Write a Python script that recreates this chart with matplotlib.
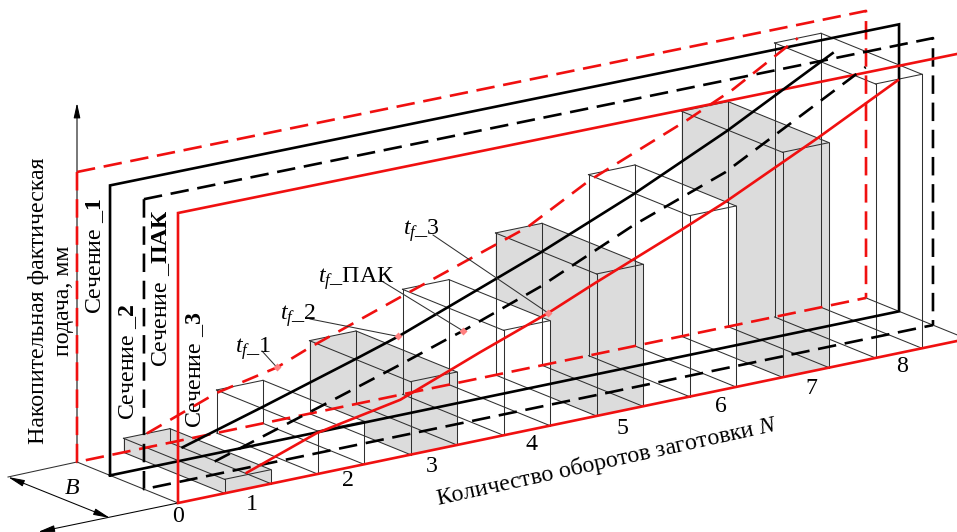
import matplotlib
matplotlib.use('Agg')
import numpy as np
import matplotlib.pyplot as plt
from matplotlib.patches import Polygon

plt.rcParams['font.family'] = ['Liberation Serif', 'DejaVu Serif']
plt.rcParams['mathtext.fontset'] = 'custom'
plt.rcParams['mathtext.rm'] = 'Liberation Serif'
plt.rcParams['mathtext.it'] = 'Liberation Serif:italic'
plt.rcParams['mathtext.bf'] = 'Liberation Serif:bold'

# Высота столбиков по оборотам (1..8)
bar_n = [1, 2, 3, 4, 5, 6, 7, 8]
bar_h = [14, 43, 73, 105, 142, 181, 225, 274]

# Накопительная подача в четырёх сечениях
tf1_n = [0.75, 1.50, 2.15, 2.50, 3.55, 4.84, 5.51, 6.56, 7.05, 7.75]
tf1_h = [14, 40, 53, 66, 100, 141, 175, 215, 236, 274]
tf2_n = [0.78, 1.65, 2.63, 3.10, 4.62, 5.62, 6.63, 7.77]
tf2_h = [13, 37, 65, 79, 133, 172, 216, 272]
tfp_n = [0.76, 2.07, 2.78, 3.26, 3.43, 4.26, 5.26, 6.25, 7.76]
tfp_h = [13, 51, 72, 87, 92, 120, 162, 196, 272]
tf3_n = [0.74, 1.49, 2.39, 2.92, 3.25, 3.98, 4.48, 5.40, 5.88, 6.88, 7.74]
tf3_h = [16, 41, 57, 76, 88, 113, 133, 168, 187, 232, 273]

# Положение маркеров на кривых
marker_n = [2.15, 3.10, 3.43, 3.98]
marker_h = [53, 79, 92, 113]

tick_labels = ['0', '1', '2', '3', '4', '5', '6', '7', '8']
tick_x = [178, 252, 348, 432, 531, 622, 721, 811, 902]
tick_y = [516, 504, 481, 466, 445, 428, 406, 388, 367]

# Плоскости сечений: глубина и стиль
D1, D2, DP, D3 = 1.0, 0.673, 0.337, 0.0
N_END = 8.484
RED = '#f01010'
DARK = '#303030'
FS = 17.2


def proj(n, d, h):
    # косоугольная проекция: обороты, глубина, высота -> пиксели
    n = np.asarray(n, dtype=float)
    h = np.asarray(h, dtype=float)
    x = 178 + 93 * n - 101 * d
    y = 503 - 19.34 * n - 41 * d - h
    return x, y


fig = plt.figure(figsize=(9.57, 5.32), dpi=100)
ax = fig.add_axes([0, 0, 1, 1])
ax.set_xlim(0, 957)
ax.set_ylim(532, 0)
ax.axis('off')

# Столбики: заливка сзади наперёд
for i in range(len(bar_n) - 1, -1, -1):
    n = bar_n[i]
    h = bar_h[i]
    n0 = n - 0.5
    pts = [proj(n0, 1, 0), proj(n0, 1, h), proj(n, 1, h), proj(n, 0, h), proj(n, 0, 0), proj(n0, 0, 0)]
    col = '#dcdcdc' if n % 2 == 1 else 'white'
    ax.add_patch(Polygon(pts, closed=True, facecolor=col, edgecolor='none', zorder=1))

# Рёбра столбиков
for n, h in zip(bar_n, bar_h):
    n0 = n - 0.5
    for a, b in [((n0, 1, h), (n, 1, h)), ((n0, 0, h), (n, 0, h)), ((n0, 1, h), (n0, 0, h)), ((n, 1, h), (n, 0, h)),
                 ((n0, 1, 0), (n0, 0, 0)), ((n, 1, 0), (n, 0, 0)),
                 ((n0, 1, 0), (n0, 1, h)), ((n, 1, 0), (n, 1, h)), ((n0, 0, 0), (n0, 0, h)), ((n, 0, 0), (n, 0, h))]:
        xa, ya = proj(*a)
        xb, yb = proj(*b)
        ax.plot([xa, xb], [ya, yb], color=DARK, lw=0.75, zorder=2)

# Тонкие линии на полу
xa, ya = proj(0, 1, 0)
xb, yb = proj(0, 0, 0)
ax.plot([xa, xb], [ya, yb], color=DARK, lw=0.75, zorder=2)
xa, ya = proj(N_END, 1, 0)
xb, yb = proj(N_END, -0.3, 0)
ax.plot([xa, xb], [ya, yb], color=DARK, lw=0.75, zorder=2)


# Рамки сечений
def section(d, color, dashed):
    x0, y0 = proj(0, d, 0)
    x1, y1 = proj(0, d, 290)
    x2, y2 = proj(N_END, d, 287)
    x3, y3 = proj(N_END, d, 0)
    if d == D3:
        # правый край уходит за кадр
        ax.plot([x3, x0, x1, x2], [y3, y0, y1, y2], color=color, lw=1.9, zorder=3, solid_joinstyle='miter')
    elif dashed:
        # штрихи идут от верхнего угла в обе стороны
        ax.plot([x1, x0, x3], [y1, y0, y3], color=color, lw=1.9, dashes=(7, 3.3), zorder=3)
        ax.plot([x1, x2, x3], [y1, y2, y3], color=color, lw=1.9, dashes=(7, 3.3), zorder=3)
    else:
        ax.plot([x0, x1, x2, x3, x0], [y0, y1, y2, y3, y0], color=color, lw=1.9, zorder=3, solid_joinstyle='miter')


section(D1, RED, True)
section(D2, 'black', False)
section(DP, 'black', True)
section(D3, RED, False)

# Кривые подачи
x, y = proj(tf1_n, D1, tf1_h)
ax.plot(x, y, color=RED, lw=1.9, dashes=(6.5, 3.8), zorder=4)
x, y = proj(tf2_n, D2, tf2_h)
ax.plot(x, y, color='black', lw=1.9, zorder=4)
x, y = proj(tfp_n, DP, tfp_h)
ax.plot(x, y, color='black', lw=1.9, dashes=(6.5, 3.8), zorder=4)
x, y = proj(tf3_n, D3, tf3_h)
ax.plot(x, y, color=RED, lw=1.9, zorder=4)

# Маркеры и выноски
marker_d = [D1, D2, DP, D3]
leader_from = [(262, 351), (310, 319), (380, 280), (433, 235)]
tf_labels = [r'$t_f$_1', r'$t_f$_2', r'$t_f$_ПАК', r'$t_f$_3']
label_pos = [(235, 353), (280, 320), (318, 283), (403, 235)]
for i in range(4):
    mx, my = proj(marker_n[i], marker_d[i], marker_h[i])
    ax.plot([leader_from[i][0], mx], [leader_from[i][1], my], color=DARK, lw=0.75, zorder=5)
    ax.plot(mx, my, marker='D', ms=4.5, color='#ff8080', mec='none', zorder=6)
    ax.text(label_pos[i][0], label_pos[i][1], tf_labels[i], fontsize=FS, ha='left', va='baseline', zorder=7)

# Ось и размер B
ax.annotate('', xy=(77, 103), xytext=(77, 462),
            arrowprops=dict(arrowstyle='-|>,head_width=0.2,head_length=0.9', color='black', lw=0.75, shrinkA=0, shrinkB=0), zorder=2)
ax.plot([8, 77], [477, 462], color=DARK, lw=0.75, zorder=2)
ax.annotate('', xy=(8, 477), xytext=(110, 518),
            arrowprops=dict(arrowstyle='<|-|>,head_width=0.2,head_length=1.0', color='black', lw=0.75, shrinkA=0, shrinkB=0), zorder=2)
ax.annotate('', xy=(38, 532), xytext=(178, 503),
            arrowprops=dict(arrowstyle='-|>,head_width=0.2,head_length=1.0', color='black', lw=0.75, shrinkA=0, shrinkB=0), zorder=2)
ax.text(72, 489, '$B$', fontsize=FS, ha='center', va='center')

# Подписи
for lab, tx, ty in zip(tick_labels, tick_x, tick_y):
    ax.text(tx, ty, lab, fontsize=FS, ha='center', va='center')

ax.text(437, 505, r'Количество оборотов заготовки $N$', fontsize=FS, rotation=12.4,
        rotation_mode='anchor', ha='left', va='baseline')
ax.text(51, 301, 'Накопительная фактическая\nподача, мм', fontsize=FS, rotation=90,
        ha='center', va='center', linespacing=1.27)
ax.text(95, 256, r'Сечение _$\mathbf{1}$', fontsize=FS, rotation=90, ha='center', va='center')
ax.text(128, 362, r'Сечение _$\mathbf{2}$', fontsize=FS, rotation=90, ha='center', va='center')
ax.text(161, 288, r'Сечение _$\mathbf{ПАК}$', fontsize=FS, rotation=90, ha='center', va='center')
ax.text(195, 370, r'Сечение _$\mathbf{3}$', fontsize=FS, rotation=90, ha='center', va='center')

fig.savefig('out.png', dpi=100)
